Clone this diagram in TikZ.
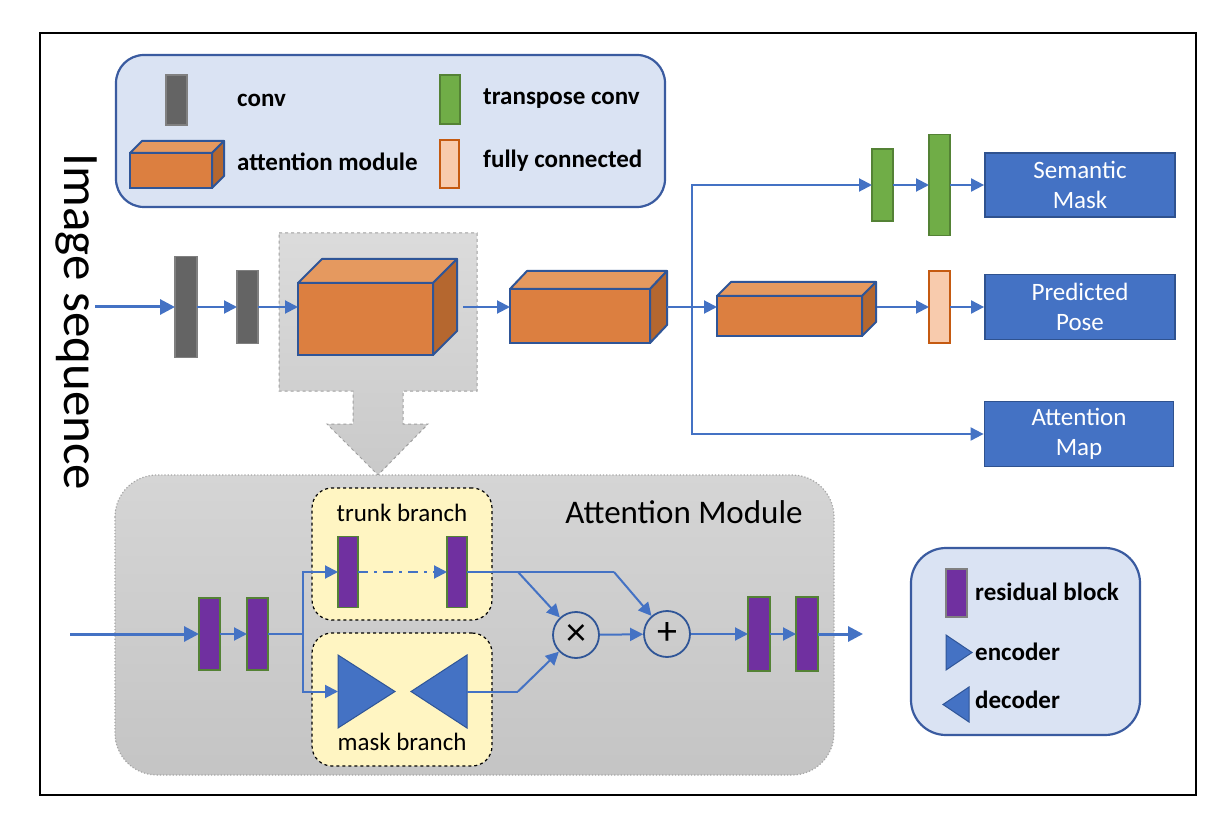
\documentclass[tikz,border=0pt]{standalone}
\usepackage{fontspec}
\setmainfont{Carlito}
\usetikzlibrary{arrows.meta,calc}
\definecolor{ln}{HTML}{4472C4}
\definecolor{legfill}{HTML}{DAE3F3}
\definecolor{legdraw}{HTML}{3A5BA0}
\definecolor{convfill}{HTML}{646464}
\definecolor{convdraw}{HTML}{808080}
\definecolor{grfill}{HTML}{70AD47}
\definecolor{grdraw}{HTML}{548235}
\definecolor{pefill}{HTML}{F8CBAD}
\definecolor{pedraw}{HTML}{C55A11}
\definecolor{orfront}{HTML}{DC7F40}
\definecolor{ortop}{HTML}{E5995F}
\definecolor{orside}{HTML}{B5672F}
\definecolor{cubedraw}{HTML}{2F5597}
\definecolor{purp}{HTML}{7030A0}
\definecolor{outfill}{HTML}{4472C4}
\definecolor{outdraw}{HTML}{2F528F}
\definecolor{yel}{HTML}{FFF5C2}
\newcommand{\cubefaces}[3]{%
  \filldraw[cubetop] (#1.north west) -- ++(#2,-#3) -- ($(#1.north east)+(#2,-#3)$) -- (#1.north east) -- cycle;
  \filldraw[cubeside] (#1.north east) -- ++(#2,-#3) -- ($(#1.south east)+(#2,-#3)$) -- (#1.south east) -- cycle;}
\tikzset{
  conn/.style={draw=ln, line width=2pt},
  arr/.style={conn, -{Triangle[length=13pt,width=13pt]}},
  bigarr/.style={draw=ln, line width=3pt, -{Triangle[length=15pt,width=15pt]}},
  legendbox/.style={draw=legdraw, fill=legfill, line width=2.2pt, rounded corners=28pt},
  convst/.style={draw=convdraw, fill=convfill, line width=1.5pt, inner sep=0pt, outer sep=0pt},
  grst/.style={draw=grdraw, fill=grfill, line width=1.5pt, inner sep=0pt, outer sep=0pt},
  pest/.style={draw=pedraw, fill=pefill, line width=1.8pt, inner sep=0pt, outer sep=0pt},
  resst/.style={draw=grdraw, fill=purp, line width=1.8pt, inner sep=0pt, outer sep=0pt},
  cubefront/.style={draw=cubedraw, fill=orfront, line width=2pt, inner sep=0pt, outer sep=0pt},
  cubetop/.style={draw=cubedraw, fill=ortop, line width=2pt, line join=round},
  cubeside/.style={draw=cubedraw, fill=orside, line width=2pt, line join=round},
  outbox/.style={draw=outdraw, fill=outfill, line width=1.8pt, text=white, font=\fontsize{25}{30}\selectfont, align=center, inner sep=0pt},
  lab/.style={font=\fontsize{25}{28}\selectfont\bfseries, anchor=west, inner sep=0pt},
  branch/.style={draw=black, dashed, fill=yel, line width=1.2pt, rounded corners=20pt},
  op/.style={circle, draw=cubedraw, line width=1.8pt, minimum size=46pt, inner sep=0pt, font=\fontsize{40}{40}\selectfont},
  tri/.style={fill=ln, draw=cubedraw, line width=1pt, line join=miter},
}
\begin{document}
\begin{tikzpicture}[x=1pt,y=-1pt]
\useasboundingbox (0,0) rectangle (1227,821);
\fill[white] (0,0) rectangle (1227,821);
% outer frame
\draw[line width=1.2pt] (40,33) rectangle (1196,795);

% ---------- top legend ----------
\node[legendbox, minimum width=549pt, minimum height=152pt] (leg1) at (390.5,131) {};
\node[convst, minimum width=21pt, minimum height=50pt] (lconv) at (176.5,100) {};
\node[lab] (lconvt) at (237,100) {conv};
\node[grst, minimum width=20pt, minimum height=49pt] (lgr) at (450,99.5) {};
\node[lab] (lgrt) at (483,99) {transpose conv};
\node[cubefront, minimum width=82pt, minimum height=35pt] (lcube) at (171,170.5) {};
\cubefaces{lcube}{12}{12}
\node[lab] (lcubet) at (237,162) {attention module};
\node[pest, minimum width=19pt, minimum height=48pt] (lpe) at (449.5,164) {};
\node[lab] (lpet) at (483,161) {fully connected};

% Image sequence
\node[rotate=-90, font=\fontsize{51}{54}\selectfont, inner sep=0pt] (imgseq) at (76,322) {Image sequence};

% ---------- gray highlight with down arrow ----------
\path[top color=gray!28, bottom color=gray!42, draw=gray!75, dashed, line width=1pt]
  (279,233) -- (477,233) -- (477,391) -- (403,391) -- (403,424) -- (428,424) -- (378,475)
  -- (327,424) -- (353,424) -- (353,391) -- (279,391) -- cycle;

% ---------- main flow ----------
\coordinate (in0) at (95,307);
\node[convst, minimum width=22pt, minimum height=101pt] (c1) at (186,307) {};
\node[convst, minimum width=21pt, minimum height=73pt] (c2) at (247.5,307) {};
\node[cubefront, minimum width=135pt, minimum height=72pt] (b1) at (365.5,319) {};
\cubefaces{b1}{24}{24}
\node[cubefront, minimum width=140pt, minimum height=54pt] (b2) at (580,316) {};
\cubefaces{b2}{17}{18}
\node[cubefront, minimum width=145pt, minimum height=40pt] (b3) at (789.5,316) {};
\cubefaces{b3}{14}{14}
\coordinate (b1r) at (463,307);
\coordinate (b2r) at (667,307);
\coordinate (b3r) at (877,307);
\coordinate (sp) at (692,307);

\node[grst, minimum width=21pt, minimum height=72pt] (g1) at (882.5,185) {};
\node[grst, minimum width=21pt, minimum height=101pt] (g2) at (939.5,185) {};
\node[pest, minimum width=21pt, minimum height=72pt] (fc) at (939.5,307) {};
\node[outbox, minimum width=190pt, minimum height=64pt] (sem) at (1080,185) {Semantic\\Mask};
\node[outbox, minimum width=190pt, minimum height=65pt] (pose) at (1080,307) {Predicted\\Pose};
\node[outbox, minimum width=189pt, minimum height=65pt] (attm) at (1079,434) {Attention\\Map};

\draw[bigarr] (in0) -- (c1);
\draw[arr] (c1) -- (c2);
\draw[arr] (c2.east) -- (c2.east -| b1.west);
\draw[arr] (b1r) -- (b1r -| b2.west);
\draw[arr] (b2r) -- (b2r -| b3.west);
\draw[arr] (sp) |- (g1.west);
\draw[arr] (g1) -- (g2);
\draw[arr] (g2) -- (sem);
\draw[arr] (b3r) -- (fc);
\draw[arr] (fc) -- (pose);
\draw[arr] (sp) |- (attm.west);

% ---------- attention module ----------
\path[top color=gray!33, bottom color=gray!46, draw=gray!70, dotted, line width=1.2pt, rounded corners=42pt]
  (115,475) rectangle (834,775);
\node[font=\fontsize{33}{36}\selectfont, inner sep=0pt] (amt) at (684,512) {Attention Module};
\node[branch, minimum width=180pt, minimum height=132pt] (trunk) at (402,554) {};
\node[branch, minimum width=180pt, minimum height=133pt] (mask) at (402,699.5) {};
\node[font=\fontsize{25}{28}\selectfont, inner sep=0pt] (trunkt) at (402,513) {trunk branch};
\node[font=\fontsize{25}{28}\selectfont, inner sep=0pt] (maskt) at (402,742) {mask branch};

\coordinate (ain) at (70,634);
\node[resst, minimum width=21pt, minimum height=72pt] (r1) at (209.5,634) {};
\node[resst, minimum width=21pt, minimum height=72pt] (r2) at (257.5,634) {};
\coordinate (asp) at (303,634);
\node[resst, minimum width=20pt, minimum height=71pt] (ta) at (348,572) {};
\node[resst, minimum width=20pt, minimum height=71pt] (tb) at (457,572) {};
\path[tri] (338,655) -- (338,728) -- (395,691.5) -- cycle;
\path[tri] (467,655) -- (467,728) -- (411,691.5) -- cycle;
\coordinate (encw) at (338,691.5);
\coordinate (decr) at (467,691.5);
\node[op] (times) at (576,635) {×};
\node[op] (plus) at (667,634) {+};
\coordinate (tbend) at (614,572);
\coordinate (tsplit) at (518,572);
\coordinate (mbend) at (518,691.5);
\node[resst, minimum width=22pt, minimum height=74pt] (r3) at (759,634) {};
\node[resst, minimum width=22pt, minimum height=74pt] (r4) at (807,634) {};
\coordinate (aout) at (863,634);

\draw[bigarr] (ain) -- (r1);
\draw[arr] (r1) -- (r2);
\draw[conn] (r2.east) -- (asp);
\draw[arr] (asp) |- (ta.west);
\draw[arr] (asp) |- (encw);
\draw[arr, dash pattern=on 10pt off 6pt on 3pt off 6pt] (ta) -- (tb);
\draw[conn] (tb.east) -- (tbend);
\draw[arr] (tbend) -- (plus);
\draw[arr] (tsplit) -- (times);
\draw[conn] (decr) -- (mbend);
\draw[arr] (mbend) -- (times);
\draw[arr] (times) -- (plus);
\draw[arr] (plus) -- (r3);
\draw[arr] (r3) -- (r4);
\draw[bigarr] (r4) -- (aout);

% ---------- bottom legend ----------
\node[legendbox, rounded corners=35pt, minimum width=229pt, minimum height=187pt] (leg2) at (1025.5,641.5) {};
\node[draw=gray, fill=purp, line width=1.8pt, inner sep=0pt, minimum width=21pt, minimum height=48pt] (lres) at (956.5,593) {};
\node[lab] (lrest) at (975,592) {residual block};
\path[tri] (946,635) -- (946,670) -- (972,652.5) -- cycle;
\node[lab] (lenct) at (975,652) {encoder};
\path[tri] (969,687) -- (969,722) -- (943,704.5) -- cycle;
\node[lab] (ldect) at (975,700) {decoder};
\end{tikzpicture}
\end{document}
